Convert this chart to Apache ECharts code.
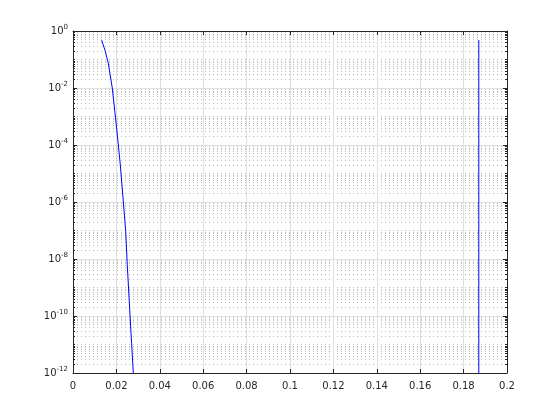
<!DOCTYPE html>
<html><head><meta charset="utf-8">
<script src="https://cdn.jsdelivr.net/npm/echarts@6/dist/echarts.min.js"></script>
<style>html,body{margin:0;padding:0;background:#fff}#c{width:560px;height:420px}</style>
</head><body><div id="c"></div>
<script>
// Data
const curveX = [0.0132, 0.01475, 0.01627, 0.0181, 0.0197, 0.0209, 0.0218, 0.0232, 0.0243, 0.0250, 0.0263, 0.0270, 0.0278, 0.0285];
const curveY = [0.48, 0.21, 0.074, 1e-2, 7.6e-4, 1e-4, 2e-5, 1e-6, 9e-8, 6.3e-9, 1e-10, 1.1e-11, 1e-12, 1e-13];
const spikeX = [0.187, 0.187];
const spikeY = [1e-13, 0.48];
const xTicks = [0, 0.02, 0.04, 0.06, 0.08, 0.1, 0.12, 0.14, 0.16, 0.18, 0.2];
const yMin = 1e-12, yMax = 1;

const AX = '#262626';
const FONT = 'DejaVu Sans';
const chart = echarts.init(document.getElementById('c'), null, {renderer: 'canvas'});
const grid = {left: 73, right: 53, top: 31, bottom: 47, containLabel: false};

function yLabel(v) {
  const e = Math.round(Math.log10(v));
  return '{b|10}{s|' + e + '}';
}
const majorY = {
  type: 'log', logBase: 10, min: yMin, max: yMax, interval: 2, position: 'left',
  axisLine: {show: true, lineStyle: {color: AX, width: 1}},
  axisTick: {show: true, inside: true, length: 4, lineStyle: {color: AX}},
  splitLine: {show: true, lineStyle: {color: '#dfdfdf', width: 1}},
  axisLabel: {show: true, margin: 5, formatter: yLabel, color: AX,
    rich: {b: {fontFamily: FONT, fontSize: 10, color: AX},
           s: {fontFamily: FONT, fontSize: 7, color: AX, padding: [0, 0, 7, 0]}}}
};
const minorY = {
  type: 'log', logBase: 10, min: yMin, max: yMax, interval: 1, position: 'left',
  axisLine: {show: false},
  axisTick: {show: true, inside: true, length: 2, lineStyle: {color: AX}},
  minorTick: {show: true, splitNumber: 9, length: 2, lineStyle: {color: AX}},
  splitLine: {show: true, lineStyle: {color: '#bdbdbd', width: 1, type: [1, 3]}},
  minorSplitLine: {show: true, lineStyle: {color: '#bdbdbd', width: 1, type: [1, 3]}},
  axisLabel: {show: false}
};
const rightMajor = Object.assign({}, majorY, {position: 'right', splitLine: {show: false}, axisLabel: {show: false}});
const rightMinor = Object.assign({}, minorY, {position: 'right', splitLine: {show: false}, minorSplitLine: {show: false}});

const xBase = {
  type: 'value', min: 0, max: 0.2, interval: 0.02,
  axisLine: {show: true, onZero: false, lineStyle: {color: AX, width: 1}},
  axisTick: {show: true, inside: true, length: 4, lineStyle: {color: AX}},
  splitLine: {show: true, lineStyle: {color: '#dfdfdf', width: 1}},
  axisLabel: {show: true, margin: 8, color: AX, fontFamily: FONT, fontSize: 10,
    formatter: v => String(+v.toFixed(2))}
};
const xTop = Object.assign({}, xBase, {position: 'top', splitLine: {show: false}, axisLabel: {show: false}});

chart.setOption({
  animation: false,
  backgroundColor: '#fff',
  grid: grid,
  xAxis: [Object.assign({position: 'bottom'}, xBase), xTop],
  yAxis: [minorY, majorY, rightMinor, rightMajor],
  series: [
    {type: 'line', xAxisIndex: 0, yAxisIndex: 1, showSymbol: false, symbol: 'none',
     data: curveX.map((x, i) => [x, curveY[i]]),
     lineStyle: {color: '#0000ff', width: 1}, z: 10},
    {type: 'line', xAxisIndex: 0, yAxisIndex: 1, showSymbol: false, symbol: 'none',
     data: spikeX.map((x, i) => [x, spikeY[i]]),
     lineStyle: {color: '#0000ff', width: 1}, z: 10}
  ]
});
</script></body></html>
